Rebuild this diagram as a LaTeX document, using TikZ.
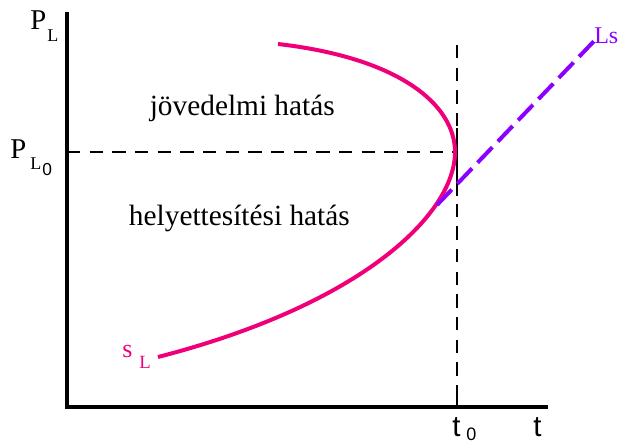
\documentclass[tikz,border=0pt]{standalone}
\usepackage{fontspec}
\setmainfont{Liberation Serif}
\newfontfamily\arialf{Liberation Sans}
\definecolor{curvepink}{RGB}{240,0,120}
\definecolor{lspurple}{RGB}{140,0,255}
\begin{document}
\begin{tikzpicture}[x=0.75pt,y=-0.75pt,
  axisline/.style={line width=3pt},
  guide/.style={line width=1pt,dash pattern=on 10pt off 7pt},
  slcurve/.style={line width=3pt,curvepink},
  lsline/.style={line width=3pt,lspurple,dash pattern=on 16pt off 6pt},
  lbl/.style={inner sep=0pt,anchor=base west},
  big/.style={font=\fontsize{22}{26}\selectfont},
  bigP/.style={font=\fontsize{21.5}{26}\selectfont},
  sub/.style={font=\fontsize{13.5}{16}\selectfont},
  subz/.style={font=\arialf\fontsize{13}{15}\selectfont}]
\useasboundingbox (0,0) rectangle (625,443);
\coordinate (top) at (67,12);
\coordinate (orig) at (67,407);
\coordinate (xend) at (548,407);
\draw[axisline] (top) -- (orig) -- (xend);
% guides
\coordinate (p0) at (67,152);
\coordinate (m) at (457,152);
\coordinate (vtop) at (457,45);
\coordinate (vbot) at (457,402);
\draw[guide] (p0) -- (m);
\draw[guide] (vtop) -- (vbot);
\coordinate (s1) at (457,128);
\coordinate (s2) at (457,196);
\draw[line width=1.2pt] (s1) -- (s2);
\coordinate (tk1) at (457,392);
\coordinate (tk2) at (457,407);
\draw[line width=1pt] (tk1) -- (tk2);
% curve
\coordinate (c0) at (278,44);
\coordinate (c1) at (455,152);
\coordinate (c2) at (158,357);
\draw[slcurve] (c0) .. controls (400,58) and (455,105) .. (c1)
  .. controls (455,215) and (360,305) .. (c2);
% Ls line
\coordinate (l0) at (437,205);
\coordinate (l1) at (597,38);
\draw[lsline] (l0) -- (l1);
% labels
\node[lbl,bigP] (plP) at (30,29) {P};
\node[lbl,sub] (plL) at (47,41) {L};
\node[lbl,bigP] (pl0P) at (10,158) {P};
\node[lbl,sub] (pl0L) at (30,169) {L};
\node[lbl,subz] (pl0z) at (42,175) {0};
\node[lbl,font=\arialf\fontsize{22}{26}\selectfont] (t0t) at (452,436) {t};
\node[lbl,font=\arialf\fontsize{13.5}{16}\selectfont] (t0z) at (466,440) {0};
\node[lbl,font=\arialf\fontsize{22}{26}\selectfont] (tt) at (533,436) {t};
\node[lbl,text=lspurple,font=\fontsize{18}{22}\selectfont] (ls) at (594,43) {Ls};
\node[lbl,text=curvepink,font=\fontsize{19.5}{23}\selectfont] (sls) at (122,357) {s};
\node[lbl,text=curvepink,font=\fontsize{14}{16}\selectfont] (slL) at (139,368) {L};
\node[inner sep=0pt,anchor=base east,big] (jov) at (335,115) {jövedelmi hatás};
\node[inner sep=0pt,anchor=base east,big] (hely) at (350,225) {helyettesítési hatás};
\end{tikzpicture}
\end{document}
